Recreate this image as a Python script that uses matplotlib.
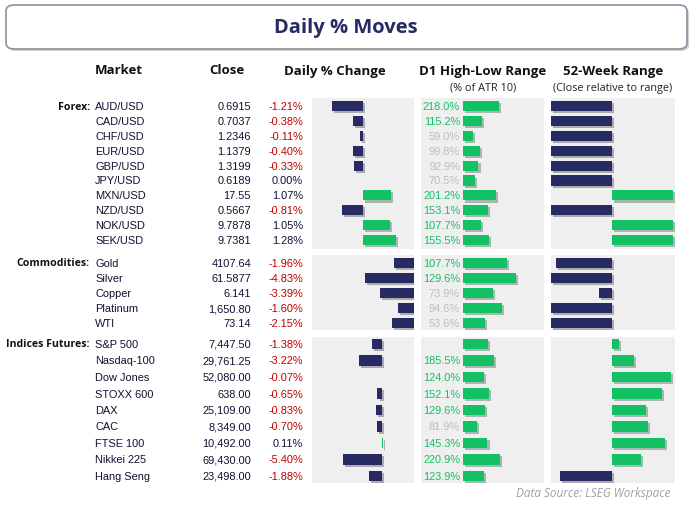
import matplotlib
matplotlib.use("Agg")
import matplotlib.pyplot as plt
from matplotlib.patches import FancyBboxPatch
import matplotlib.patheffects as pe

W, H = 693, 506
NAVY = "#272a63"; GREEN = "#12c164"; RED = "#c00000"; GRAY = "#bdbdbd"; BG = "#efefef"

groups = ["Forex:", "Commodities:", "Indices Futures:"]
markets = [
    ["AUD/USD", "CAD/USD", "CHF/USD", "EUR/USD", "GBP/USD", "JPY/USD", "MXN/USD", "NZD/USD", "NOK/USD", "SEK/USD"],
    ["Gold", "Silver", "Copper", "Platinum", "WTI"],
    ["S&P 500", "Nasdaq-100", "Dow Jones", "STOXX 600", "DAX", "CAC", "FTSE 100", "Nikkei 225", "Hang Seng"],
]
closes = [
    ["0.6915", "0.7037", "1.2346", "1.1379", "1.3199", "0.6189", "17.55", "0.5667", "9.7878", "9.7381"],
    ["4107.64", "61.5877", "6.141", "1,650.80", "73.14"],
    ["7,447.50", "29,761.25", "52,080.00", "638.00", "25,109.00", "8,349.00", "10,492.00", "69,430.00", "23,498.00"],
]
daily = [
    [-1.21, -0.38, -0.11, -0.40, -0.33, 0.00, 1.07, -0.81, 1.05, 1.28],
    [-1.96, -4.83, -3.39, -1.60, -2.15],
    [-1.38, -3.22, -0.07, -0.65, -0.83, -0.70, 0.11, -5.40, -1.88],
]
d1 = [
    [218.0, 115.2, 59.0, 99.8, 92.9, 70.5, 201.2, 153.1, 107.7, 155.5],
    [107.7, 129.6, 73.9, 94.6, 53.6],
    [150.0, 185.5, 124.0, 152.1, 129.6, 81.9, 145.3, 220.9, 123.9],
]
d1_labels = [
    ["218.0%", "115.2%", "59.0%", "99.8%", "92.9%", "70.5%", "201.2%", "153.1%", "107.7%", "155.5%"],
    ["107.7%", "129.6%", "73.9%", "94.6%", "53.6%"],
    ["", "185.5%", "124.0%", "152.1%", "129.6%", "81.9%", "145.3%", "220.9%", "123.9%"],
]
week52 = [
    [-1.0, -1.0, -1.0, -1.0, -1.0, -1.0, 1.0, -1.0, 1.0, 1.0],
    [-0.92, -1.0, -0.21, -1.0, -1.0],
    [0.12, 0.36, 0.97, 0.82, 0.56, 0.59, 0.87, 0.47, -0.85],
]

# layout (pixels)
row_y0 = [107, 264, 345]
row_dy = [14.9, 15.0, 16.5]
panel_y = [(99, 250), (256, 331), (338, 484)]
cols = [(312, 414), (421, 544), (551, 675)]
daily_lim = [(-1.96, 1.96), (-10.1, 0.0), (-9.7, 4.4)]
d1_lim = [(-255, 490), (-102, 197), (-250, 482)]
wk_lim = (-1.0, 1.03)

fig = plt.figure(figsize=(W / 100, H / 100), dpi=100)
fx = lambda x: x / W
fy = lambda y: 1 - y / H
body = dict(family="Liberation Sans", fontsize=7.9)
head = dict(family="Open Sans", fontsize=9.5, fontweight="bold", color="#111111")

# title box
box = FancyBboxPatch((fx(6), fy(50)), fx(681), 44 / H, boxstyle="round,pad=0,rounding_size=0.012",
                     transform=fig.transFigure, facecolor="white", edgecolor="#8e8ea0", linewidth=1.2,
                     path_effects=[pe.SimplePatchShadow(offset=(1.5, -1.5), alpha=0.25), pe.Normal()])
fig.patches.append(box)
fig.text(fx(346), fy(28), "Daily % Moves", ha="center", va="center", family="Open Sans",
         fontsize=14.5, fontweight="bold", color=NAVY)

for x, t in [(119, "Market"), (227, "Close"), (335, "Daily % Change"), (483, "D1 High-Low Range"), (613, "52-Week Range")]:
    fig.text(fx(x), fy(71), t, ha="center", va="center", **head)
for x, t in [(483, "(% of ATR 10)"), (613, "(Close relative to range)")]:
    fig.text(fx(x), fy(88), t, ha="center", va="center", family="Open Sans", fontsize=7.8, color="#222222")

shadow = [pe.SimplePatchShadow(offset=(1.5, -1.5), alpha=0.3), pe.Normal()]

for g in range(3):
    n = len(markets[g])
    ys = [row_y0[g] + i * row_dy[g] for i in range(n)]
    fig.text(fx(90), fy(ys[0]), groups[g], ha="right", va="center", family="Open Sans",
             fontsize=7.6, fontweight="bold", color="#111111")
    for i in range(n):
        y = fy(ys[i])
        fig.text(fx(95), y, markets[g][i], ha="left", va="center", color="#111133", **body)
        fig.text(fx(251), y, closes[g][i], ha="right", va="center", color="#111133", **body)
        v = daily[g][i]
        fig.text(fx(303), y, f"{v:.2f}%", ha="right", va="center", color=RED if v < 0 else "#111133", **body)
        lab = d1_labels[g][i]
        if lab:
            fig.text(fx(460), y, lab, ha="right", va="center",
                     color=GREEN if d1[g][i] > 100 else GRAY, **body)
    top, bot = panel_y[g]
    ylo = (bot - row_y0[g]) / row_dy[g]
    yhi = (top - row_y0[g]) / row_dy[g]
    pos = list(range(n))
    specs = [
        (cols[0], daily_lim[g], daily[g], [NAVY if v < 0 else GREEN for v in daily[g]]),
        (cols[1], d1_lim[g], d1[g], [GREEN] * n),
        (cols[2], wk_lim, week52[g], [NAVY if v < 0 else GREEN for v in week52[g]]),
    ]
    for (x0, x1), lim, vals, colors in specs:
        ax = fig.add_axes([fx(x0), fy(bot), (x1 - x0) / W, (bot - top) / H])
        ax.set_facecolor(BG)
        ax.barh(pos, vals, height=0.68 if g < 2 else 0.62, color=colors, path_effects=shadow)
        ax.set_xlim(*lim)
        ax.set_ylim(ylo, yhi)
        for s in ax.spines.values():
            s.set_visible(False)
        ax.set_xticks([]); ax.set_yticks([])

fig.text(fx(670), fy(494), "Data Source: LSEG Workspace", ha="right", va="center", family="Open Sans",
         fontsize=8.5, style="italic", color="#a0a0a0")

fig.savefig("out.png", dpi=100)
